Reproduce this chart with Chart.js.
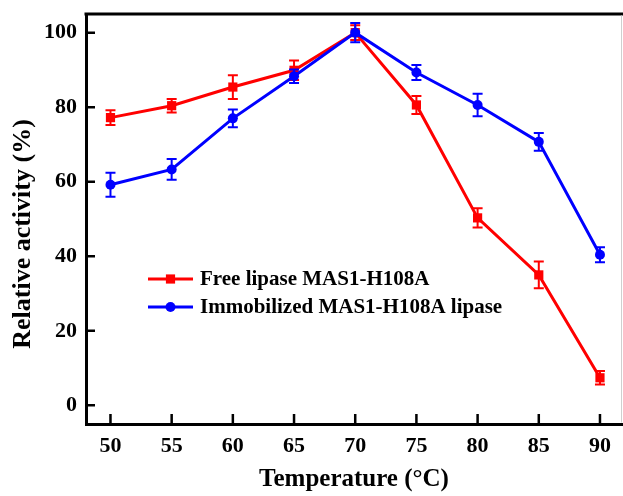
<!DOCTYPE html>
<html>
<head>
<meta charset="utf-8">
<script src="https://cdn.jsdelivr.net/npm/chart.js@4"></script>
<style>
html,body{margin:0;padding:0;background:#fff;}
#wrap{width:623px;height:496px;position:relative;}
</style>
</head>
<body>
<div id="wrap"><canvas id="c" width="623" height="496"></canvas></div>
<script>
const temperatures = [50, 55, 60, 65, 70, 75, 80, 85, 90];
const freeActivity = [77.2, 80.4, 85.4, 89.9, 100, 80.6, 50.3, 35.0, 7.4];
const freeError = [2.0, 1.8, 3.2, 2.6, 2.0, 2.4, 2.6, 3.6, 1.8];
const immobActivity = [59.2, 63.3, 77.0, 88.3, 100, 89.3, 80.6, 70.7, 40.4];
const immobError = [3.2, 2.8, 2.4, 1.8, 2.6, 2.0, 3.0, 2.4, 2.0];
const xTicks = [50, 55, 60, 65, 70, 75, 80, 85, 90];
const yTicks = [0, 20, 40, 60, 80, 100];
const seriesNames = ['Free lipase MAS1-H108A', 'Immobilized MAS1-H108A lipase'];

const FONT = "'Liberation Serif', 'Times New Roman', serif";

const errorBarPlugin = {
  id: 'errorBars',
  afterDatasetDraw(chart, args) {
    const ds = chart.data.datasets[args.index];
    if (!ds.errors) return;
    const ctx = chart.ctx;
    const xs = chart.scales.x, ys = chart.scales.y;
    ctx.save();
    ctx.strokeStyle = ds.borderColor;
    ctx.lineWidth = 2;
    ds.data.forEach((p, i) => {
      const e = ds.errors[i];
      const px = xs.getPixelForValue(p.x);
      const top = ys.getPixelForValue(p.y + e);
      const bot = ys.getPixelForValue(p.y - e);
      const cw = 5;
      ctx.beginPath();
      ctx.moveTo(px, top); ctx.lineTo(px, bot);
      ctx.moveTo(px - cw, top); ctx.lineTo(px + cw, top);
      ctx.moveTo(px - cw, bot); ctx.lineTo(px + cw, bot);
      ctx.stroke();
    });
    ctx.restore();
  }
};

const framePlugin = {
  id: 'frame',
  afterDraw(chart) {
    const ctx = chart.ctx;
    const a = chart.chartArea;
    const xs = chart.scales.x, ys = chart.scales.y;
    ctx.save();
    ctx.strokeStyle = '#000';
    ctx.lineWidth = 3;
    ctx.beginPath();
    ctx.moveTo(a.left - 1.5, a.top); ctx.lineTo(chart.width, a.top);
    ctx.stroke();
    ctx.strokeStyle = '#cfcfcf';
    ctx.lineWidth = 1;
    ctx.beginPath();
    ctx.moveTo(a.right - 0.5, a.top + 1.5); ctx.lineTo(a.right - 0.5, a.bottom - 1.5);
    ctx.stroke();
    // inward ticks
    ctx.strokeStyle = '#000';
    ctx.lineWidth = 2.5;
    ctx.beginPath();
    yTicks.forEach(v => {
      const py = ys.getPixelForValue(v);
      ctx.moveTo(a.left, py); ctx.lineTo(a.left + 9, py);
    });
    xTicks.forEach(v => {
      const px = xs.getPixelForValue(v);
      ctx.moveTo(px, a.bottom); ctx.lineTo(px, a.bottom - 10);
    });
    ctx.stroke();
    // y axis title (placed as in the reference)
    const yt = chart.options.scales.y.title;
    ctx.save();
    ctx.translate(23, 234);
    ctx.rotate(-Math.PI / 2);
    ctx.fillStyle = '#000';
    ctx.font = 'bold 26px ' + FONT;
    ctx.textAlign = 'center';
    ctx.textBaseline = 'middle';
    ctx.fillText(yt.text, 0, 0);
    ctx.restore();
    // legend
    const lx0 = 148, lx1 = 193, ly = [279, 307];
    chart.data.datasets.forEach((ds, i) => {
      const y = ly[i];
      ctx.strokeStyle = ds.borderColor;
      ctx.fillStyle = ds.backgroundColor;
      ctx.lineWidth = 3;
      ctx.beginPath();
      ctx.moveTo(lx0, y); ctx.lineTo(lx1, y);
      ctx.stroke();
      Chart.helpers.drawPoint(ctx, {
        pointStyle: ds.pointStyle, radius: ds.pointRadius, borderWidth: 0, rotation: 0
      }, (lx0 + lx1) / 2, y);
      ctx.fillStyle = '#000';
      ctx.font = 'bold 21px ' + FONT;
      ctx.textBaseline = 'middle';
      ctx.textAlign = 'left';
      ctx.fillText(ds.label, 200, y + 1);
    });
    ctx.restore();
  }
};

new Chart(document.getElementById('c'), {
  type: 'line',
  data: {
    datasets: [
      {
        label: seriesNames[0],
        data: temperatures.map((t, i) => ({x: t, y: freeActivity[i]})),
        errors: freeError,
        borderColor: '#ff0000',
        backgroundColor: '#ff0000',
        borderWidth: 3,
        pointStyle: 'rect',
        pointRadius: 6.5,
        pointBorderWidth: 0,
        order: 1
      },
      {
        label: seriesNames[1],
        data: temperatures.map((t, i) => ({x: t, y: immobActivity[i]})),
        errors: immobError,
        borderColor: '#0000ff',
        backgroundColor: '#0000ff',
        borderWidth: 3,
        pointStyle: 'circle',
        pointRadius: 5,
        pointBorderWidth: 0,
        order: 0
      }
    ]
  },
  options: {
    responsive: false,
    animation: false,
    layout: { autoPadding: false, padding: { top: 14, right: 1, left: 0, bottom: 0 } },
    plugins: { legend: { display: false }, tooltip: { enabled: false } },
    scales: {
      x: {
        type: 'linear',
        min: 48,
        max: 91.8,
        afterBuildTicks: s => { s.ticks = xTicks.map(v => ({value: v})); },
        afterFit: s => { s.height = 72; s.paddingRight = 0; s.paddingLeft = 0; },
        grid: { display: false, drawTicks: false },
        border: { display: true, color: '#000', width: 3 },
        ticks: { color: '#000', font: { family: FONT, size: 22, weight: 'bold' }, padding: 9, maxRotation: 0 },
        title: { display: true, text: 'Temperature (°C)', color: '#000', font: { family: FONT, size: 25, weight: 'bold' }, padding: { top: 0, bottom: 1 } }
      },
      y: {
        min: -5,
        max: 105,
        afterBuildTicks: s => { s.ticks = yTicks.map(v => ({value: v})); },
        afterFit: s => { s.width = 86; s.paddingTop = 0; s.paddingBottom = 0; },
        grid: { display: false, drawTicks: false },
        border: { display: true, color: '#000', width: 3 },
        ticks: { color: '#000', font: { family: FONT, size: 22, weight: 'bold' }, padding: 9 },
        title: { display: false, text: 'Relative activity (%)', color: '#000', font: { family: FONT, size: 26, weight: 'bold' } }
      }
    }
  },
  plugins: [errorBarPlugin, framePlugin]
});
</script>
</body>
</html>
